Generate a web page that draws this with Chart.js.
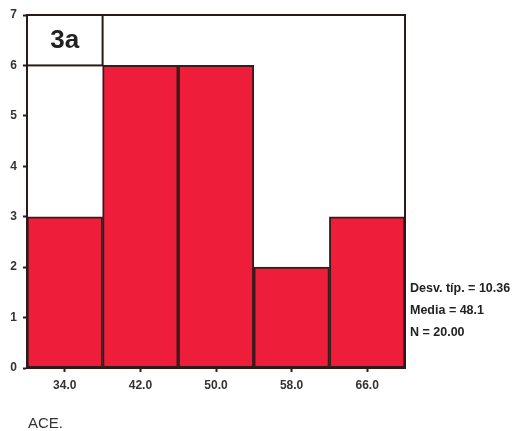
<!DOCTYPE html>
<html>
<head>
<meta charset="utf-8">
<script src="https://cdn.jsdelivr.net/npm/chart.js@4"></script>
<style>
  html, body { margin: 0; padding: 0; background: #fff; }
  #wrap { width: 514px; height: 431px; position: relative; }
</style>
</head>
<body>
<div id="wrap"><canvas id="chart"></canvas></div>
<script>
const categories = ["34.0", "42.0", "50.0", "58.0", "66.0"];
const counts = [3, 6, 6, 2, 3];
const yTicks = [0, 1, 2, 3, 4, 5, 6, 7];
const panelLabel = "3a";
const stats = ["Desv. típ. = 10.36", "Media = 48.1", "N = 20.00"];
const axisTitle = "ACE.";

const frameAndText = {
  id: "frameAndText",
  afterDraw(chart) {
    const ctx = chart.ctx;
    const area = chart.chartArea;
    const y = chart.scales.y;

    ctx.save();
    ctx.strokeStyle = "#2a1a1a";
    ctx.lineWidth = 2;
    ctx.strokeRect(area.left, area.top, area.right - area.left, area.bottom - area.top);

    // label box in the top-left corner, one bin wide, from 7 down to 6
    const boxW = (area.right - area.left) / categories.length;
    const boxBottom = y.getPixelForValue(6);
    ctx.fillStyle = "#fff";
    ctx.fillRect(area.left, area.top, boxW, boxBottom - area.top);
    ctx.strokeRect(area.left, area.top, boxW, boxBottom - area.top);
    ctx.fillStyle = "#222";
    ctx.font = "bold 26px 'Liberation Sans', Arial, sans-serif";
    ctx.textAlign = "center";
    ctx.textBaseline = "middle";
    ctx.fillText(panelLabel, area.left + boxW / 2, (area.top + boxBottom) / 2 + 1);

    ctx.font = "bold 12.5px 'Liberation Sans', Arial, sans-serif";
    ctx.textAlign = "left";
    stats.forEach((s, i) => {
      ctx.fillText(s, area.right + 5, 289 + i * 22);
    });

    ctx.font = "15px 'Liberation Sans', Arial, sans-serif";
    ctx.fillStyle = "#333";
    ctx.fillText(axisTitle, 28, 424);
    ctx.restore();
  },
};

new Chart(document.getElementById("chart"), {
  type: "bar",
  data: {
    labels: categories,
    datasets: [
      {
        data: counts,
        backgroundColor: "rgb(238, 30, 58)",
        borderColor: "#3a1a1a",
        borderWidth: 2,
        borderSkipped: false,
        barPercentage: 1,
        categoryPercentage: 1,
      },
    ],
  },
  options: {
    responsive: true,
    maintainAspectRatio: false,
    animation: false,
    layout: {
      padding: { left: 0, right: 109, top: 15, bottom: 38 },
    },
    plugins: {
      legend: { display: false },
      tooltip: { enabled: false },
    },
    scales: {
      x: {
        grid: {
          offset: false,
          drawOnChartArea: false,
          tickLength: 4,
          color: "#2a1a1a",
          tickWidth: 2,
        },
        border: { display: true, color: "#2a1a1a", width: 2 },
        ticks: {
          color: "#333",
          padding: 6,
          font: { family: "'Liberation Sans', Arial, sans-serif", size: 12, weight: "bold" },
        },
        afterFit: (scale) => {
          scale.height = 25;
        },
      },
      y: {
        min: 0,
        max: 7,
        afterBuildTicks: (scale) => {
          scale.ticks = yTicks.map((v) => ({ value: v }));
        },
        grid: {
          drawOnChartArea: false,
          tickLength: 4,
          color: "#2a1a1a",
          tickWidth: 2,
        },
        border: { display: true, color: "#2a1a1a", width: 2 },
        ticks: {
          color: "#333",
          padding: 6,
          font: { family: "'Liberation Sans', Arial, sans-serif", size: 12, weight: "bold" },
        },
        afterFit: (scale) => {
          scale.width = 27;
        },
      },
    },
  },
  plugins: [frameAndText],
});
</script>
</body>
</html>
